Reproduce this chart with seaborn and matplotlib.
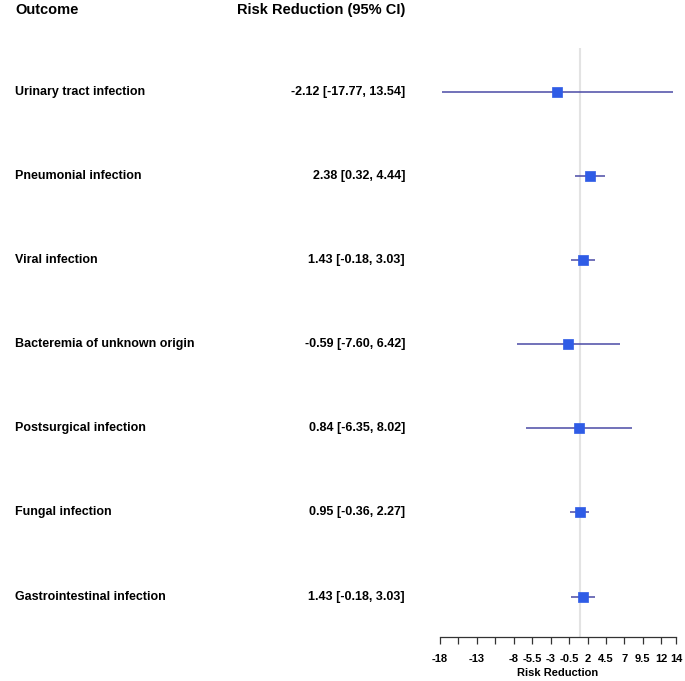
import numpy as np
import pandas as pd
import matplotlib
matplotlib.use("Agg")
import matplotlib.pyplot as plt
import matplotlib.transforms as mtransforms
import seaborn as sns

outcomes = ["Urinary tract infection", "Pneumonial infection", "Viral infection",
            "Bacteremia of unknown origin", "Postsurgical infection",
            "Fungal infection", "Gastrointestinal infection"]
estimates = [-2.12, 2.38, 1.43, -0.59, 0.84, 0.95, 1.43]
lower = [-17.77, 0.32, -0.18, -7.60, -6.35, -0.36, -0.18]
upper = [13.54, 4.44, 3.03, 6.42, 8.02, 2.27, 3.03]
tick_values = [-18, -15.5, -13, -10.5, -8, -5.5, -3, -0.5, 2, 4.5, 7, 9.5, 12, 14]
tick_labels = ["-18", "", "-13", "", "-8", "-5.5", "-3", "-0.5", "2", "4.5", "7", "9.5", "12", "14"]
null_value = 1

sns.set_style("white")
plt.rcParams['font.family'] = ['Liberation Sans', 'DejaVu Sans']
plt.rcParams['text.color'] = 'black'

df = pd.DataFrame({"outcome": outcomes, "est": estimates, "lo": lower, "hi": upper})
df["row"] = np.arange(len(df))

W, H = 685, 681
fig = plt.figure(figsize=(W / 100, H / 100), dpi=100)
ax = fig.add_axes([440 / W, 1 - 637 / H, 236 / W, 589 / H])

ax.axvline(null_value, color="#e3e3e3", lw=1.5, zorder=0)
ax.hlines(df["row"], df["lo"], df["hi"], color="#4a4aa6", lw=1.1, zorder=1)
sns.scatterplot(data=df, x="est", y="row", marker="s", s=48, color="#2f5ce6",
                edgecolor="#2f5ce6", linewidth=0.5, ax=ax, zorder=2, legend=False)

ax.set_xlim(-18, 14)
ax.set_ylim(len(df) - 0.52, -0.52)
ax.set_yticks([])
ax.set_ylabel("")
ax.set_xticks(tick_values)
ax.set_xticklabels(tick_labels, fontsize=8, fontweight="bold", color="black")
ax.tick_params(axis="x", bottom=True, direction="out", length=5, width=0.9,
               color="#333333", pad=7)
ax.set_xlabel("Risk Reduction", fontsize=8, fontweight="bold", labelpad=3, color="black")
for side in ["top", "left", "right"]:
    ax.spines[side].set_visible(False)
ax.spines["bottom"].set_color("#333333")
ax.spines["bottom"].set_linewidth(0.9)

# text columns
trans = mtransforms.blended_transform_factory(fig.transFigure, ax.transData)
for _, r in df.iterrows():
    ax.text(15 / W, r["row"], r["outcome"], transform=trans, ha="left", va="center",
            fontsize=9, fontweight="bold")
    ax.text(405 / W, r["row"], f"{r['est']:.2f} [{r['lo']:.2f}, {r['hi']:.2f}]",
            transform=trans, ha="right", va="center", fontsize=9, fontweight="bold")

fig.text(15 / W, 1 - 10 / H, "Outcome", ha="left", va="center", fontsize=10.5, fontweight="bold")
fig.text(405 / W, 1 - 10 / H, "Risk Reduction (95% CI)", ha="right", va="center",
         fontsize=10.5, fontweight="bold")

fig.savefig("out.png", dpi=100)
